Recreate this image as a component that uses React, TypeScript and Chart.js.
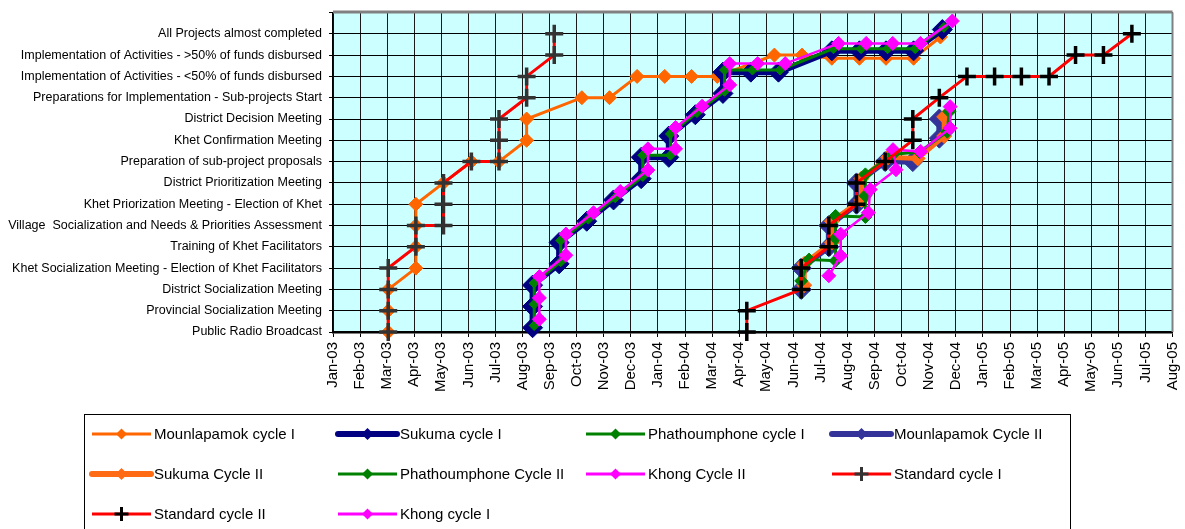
import React, { useEffect, useRef } from 'react';
import { Chart, registerables } from 'chart.js';

Chart.register(...registerables);

// ---------- tick labels ----------
const monthLabels = [
  'Jan-03', 'Feb-03', 'Mar-03', 'Apr-03', 'May-03', 'Jun-03', 'Jul-03', 'Aug-03',
  'Sep-03', 'Oct-03', 'Nov-03', 'Dec-03', 'Jan-04', 'Feb-04', 'Mar-04', 'Apr-04',
  'May-04', 'Jun-04', 'Jul-04', 'Aug-04', 'Sep-04', 'Oct-04', 'Nov-04', 'Dec-04',
  'Jan-05', 'Feb-05', 'Mar-05', 'Apr-05', 'May-05', 'Jun-05', 'Jul-05', 'Aug-05',
];

const stepLabels = [
  'Public Radio Broadcast',
  'Provincial Socialization Meeting',
  'District Socialization Meeting',
  'Khet Socialization Meeting - Election of Khet Facilitators',
  'Training of Khet Facilitators',
  'Village  Socialization and Needs & Priorities Assessment',
  'Khet Priorization Meeting - Election of Khet',
  'District Prioritization Meeting',
  'Preparation of sub-project proposals',
  'Khet Confirmation Meeting',
  'District Decision Meeting',
  'Preparations for Implementation - Sub-projects Start',
  'Implementation of Activities - <50% of funds disbursed',
  'Implementation of Activities - >50% of funds disbursed',
  'All Projects almost completed',
];

// ---------- series (x = months since Jan-03, y = step index) ----------
const mounlapamokC1Month = [2.04, 2.04, 2.04, 3.06, 3.06, 3.06, 3.06, 4.08, 5.11, 6.13, 7.15, 7.15, 9.19, 10.21, 11.23, 12.25, 13.24, 14.19, 16.3, 17.32, 18.42, 19.44, 20.42, 21.44, 22.43];
const mounlapamokC1Step = [0, 1, 2, 3, 4, 5, 6, 7, 8, 8, 9, 10, 11, 11, 12, 12, 12, 12, 13, 13, 12.85, 12.85, 12.85, 12.85, 13.85];

const sukumaC1Month = [7.37, 7.37, 7.37, 8.35, 8.35, 9.37, 10.36, 11.38, 11.38, 12.4, 12.4, 13.38, 14.4, 14.4, 15.43, 16.45, 18.42, 19.44, 20.42, 21.44, 22.5];
const sukumaC1Step = [0.2, 1.2, 2.2, 3.2, 4.2, 5.2, 6.2, 7.2, 8.2, 8.2, 9.2, 10.2, 11.2, 12.2, 12.2, 12.2, 13.2, 13.2, 13.2, 13.2, 14.2];

const phathoumphoneC1Month = [7.43, 7.43, 7.43, 8.41, 8.41, 9.43, 10.42, 11.44, 11.44, 12.46, 12.46, 13.44, 14.46, 14.46, 15.49, 16.51, 18.48, 19.5, 20.48, 21.5, 22.56];
const phathoumphoneC1Step = [0.3, 1.3, 2.3, 3.3, 4.3, 5.3, 6.3, 7.3, 8.3, 8.3, 9.3, 10.3, 11.3, 12.3, 12.3, 12.3, 13.3, 13.3, 13.3, 13.3, 14.3];

const mounlapamokC2Month = [17.29, 17.29, 18.31, 18.31, 19.33, 19.33, 20.39, 21.41, 22.39, 22.39];
const mounlapamokC2Step = [2, 3, 4, 5, 6, 7, 8, 8, 9.1, 10];

const sukumaC2Month = [17.4, 17.4, 18.42, 18.42, 19.51, 19.51, 20.5, 21.59, 22.57, 22.57];
const sukumaC2Step = [2.2, 3.2, 4.2, 5.2, 6.2, 7.2, 8.2, 8.15, 9.2, 10.1];

const phathoumphoneC2Month = [17.29, 17.58, 18.56, 18.56, 18.56, 19.66, 19.66, 19.66, 20.68, 21.66, 22.68, 22.76];
const phathoumphoneC2Step = [2.4, 3.4, 3.35, 4.4, 5.45, 5.4, 6.4, 7.4, 8.35, 8.45, 9.4, 10.35];

const khongC2Month = [18.31, 18.75, 18.75, 19.77, 19.84, 20.79, 20.68, 21.7, 22.79, 22.79];
const khongC2Step = [2.64, 3.58, 4.59, 5.6, 6.69, 7.62, 8.56, 8.48, 9.57, 10.58];

const standardC1Month = [2.04, 2.04, 2.04, 2.04, 3.06, 3.06, 4.08, 4.08, 4.08, 5.11, 6.13, 6.13, 6.13, 7.15, 7.15, 8.17, 8.17];
const standardC1Step = [0, 1, 2, 3, 4, 5, 5, 6, 7, 8, 8, 9, 10, 11, 12, 13, 14];

const standardC2Month = [15.28, 15.28, 17.29, 17.29, 18.31, 18.31, 19.33, 19.33, 20.39, 21.41, 21.41, 22.39, 23.41, 24.43, 25.42, 26.44, 27.42, 28.45, 29.5];
const standardC2Step = [0, 1, 2, 3, 4, 5, 6, 7, 8, 9, 10, 11, 12, 12, 12, 12, 13, 13, 14];

const khongC1Month = [7.62, 7.62, 7.62, 8.6, 8.6, 9.62, 10.61, 11.63, 11.63, 12.65, 12.65, 13.63, 14.65, 14.65, 15.68, 16.7, 18.67, 19.69, 20.67, 21.69, 22.87];
const khongC1Step = [0.6, 1.6, 2.6, 3.6, 4.6, 5.6, 6.6, 7.6, 8.6, 8.6, 9.6, 10.6, 11.6, 12.6, 12.6, 12.6, 13.55, 13.55, 13.55, 13.55, 14.6];

const FONT = "'Liberation Sans', Arial, Helvetica, sans-serif";

type SeriesDef = {
  name: string;
  xs: number[];
  ys: number[];
  color: string;
  width: number;
  style: 'rectRot' | 'cross';
  radius: number;
  pointColor: string;
  pointBorder: number;
  legendRadius: number;
};

const series: SeriesDef[] = [
  { name: 'Mounlapamok cycle I', xs: mounlapamokC1Month, ys: mounlapamokC1Step, color: '#FF6600', width: 3, style: 'rectRot', radius: 7, pointColor: '#FF6600', pointBorder: 1, legendRadius: 5.5 },
  { name: 'Sukuma cycle I', xs: sukumaC1Month, ys: sukumaC1Step, color: '#000080', width: 6, style: 'rectRot', radius: 10, pointColor: '#000080', pointBorder: 1, legendRadius: 6 },
  { name: 'Phathoumphone cycle I', xs: phathoumphoneC1Month, ys: phathoumphoneC1Step, color: '#008000', width: 3, style: 'rectRot', radius: 5, pointColor: '#008000', pointBorder: 1, legendRadius: 5.5 },
  { name: 'Mounlapamok Cycle II', xs: mounlapamokC2Month, ys: mounlapamokC2Step, color: '#333399', width: 6, style: 'rectRot', radius: 10, pointColor: '#333399', pointBorder: 1, legendRadius: 6 },
  { name: 'Sukuma Cycle II', xs: sukumaC2Month, ys: sukumaC2Step, color: '#FF6A14', width: 5, style: 'rectRot', radius: 7.5, pointColor: '#FF6A14', pointBorder: 1, legendRadius: 6 },
  { name: 'Phathoumphone Cycle II', xs: phathoumphoneC2Month, ys: phathoumphoneC2Step, color: '#008000', width: 3, style: 'rectRot', radius: 6.5, pointColor: '#008000', pointBorder: 1, legendRadius: 5.5 },
  { name: 'Khong Cycle II', xs: khongC2Month, ys: khongC2Step, color: '#FF00FF', width: 2.5, style: 'rectRot', radius: 7, pointColor: '#FF00FF', pointBorder: 1, legendRadius: 5.5 },
  { name: 'Standard cycle I', xs: standardC1Month, ys: standardC1Step, color: '#FF0000', width: 3, style: 'cross', radius: 9, pointColor: '#333333', pointBorder: 3.5, legendRadius: 7 },
  { name: 'Standard cycle II', xs: standardC2Month, ys: standardC2Step, color: '#FF0000', width: 3, style: 'cross', radius: 9, pointColor: '#000000', pointBorder: 3.5, legendRadius: 7 },
  { name: 'Khong cycle I', xs: khongC1Month, ys: khongC1Step, color: '#FF00FF', width: 2.5, style: 'rectRot', radius: 7, pointColor: '#FF00FF', pointBorder: 1, legendRadius: 5.5 },
];

const legendCols = [92, 338, 586, 832];
const legendRows = [434, 474, 514];

function drawMarker(ctx: CanvasRenderingContext2D, s: SeriesDef, x: number, y: number) {
  const r = s.legendRadius;
  if (s.style === 'cross') {
    ctx.strokeStyle = s.pointColor;
    ctx.lineWidth = 3;
    ctx.lineCap = 'butt';
    ctx.beginPath();
    ctx.moveTo(x - r, y);
    ctx.lineTo(x + r, y);
    ctx.moveTo(x, y - r);
    ctx.lineTo(x, y + r);
    ctx.stroke();
  } else {
    ctx.fillStyle = s.pointColor;
    ctx.beginPath();
    ctx.moveTo(x - r, y);
    ctx.lineTo(x, y - r);
    ctx.lineTo(x + r, y);
    ctx.lineTo(x, y + r);
    ctx.closePath();
    ctx.fill();
  }
}

const backgroundPlugin = {
  id: 'bgPlugin',
  beforeDraw(chart: any) {
    const { ctx, chartArea: a } = chart;
    ctx.save();
    ctx.fillStyle = '#ffffff';
    ctx.fillRect(0, 0, chart.width, chart.height);
    ctx.fillStyle = '#CCFFFF';
    ctx.fillRect(a.left, a.top, a.right - a.left, a.bottom - a.top);
    ctx.restore();
  },
  afterDraw(chart: any) {
    const { ctx, chartArea: a } = chart;
    ctx.save();
    // top and right frame
    ctx.strokeStyle = '#808080';
    ctx.lineWidth = 3;
    ctx.beginPath();
    ctx.moveTo(a.left, a.top - 0.5);
    ctx.lineTo(a.right, a.top - 0.5);
    ctx.stroke();
    ctx.lineWidth = 2;
    ctx.beginPath();
    ctx.moveTo(a.right, a.top);
    ctx.lineTo(a.right, a.bottom);
    ctx.stroke();

    // legend box
    ctx.strokeStyle = '#000000';
    ctx.lineWidth = 1;
    ctx.strokeRect(84.5, 414.5, 986, 200);
    ctx.font = `15px ${FONT}`;
    ctx.textBaseline = 'middle';
    ctx.textAlign = 'left';
    series.forEach((s, i) => {
      const x0 = legendCols[i % 4];
      const y = legendRows[Math.floor(i / 4)];
      const x1 = x0 + 59;
      ctx.strokeStyle = s.color;
      ctx.lineWidth = s.width >= 5 ? 6 : 3;
      ctx.lineCap = s.width >= 5 ? 'round' : 'butt';
      ctx.beginPath();
      ctx.moveTo(x0, y);
      ctx.lineTo(x1, y);
      ctx.stroke();
      drawMarker(ctx, s, (x0 + x1) / 2, y);
      ctx.fillStyle = '#000000';
      ctx.fillText(s.name, x1 + 3, y + 1);
    });
    ctx.restore();
  },
};

export default function App() {
  const canvasRef = useRef<HTMLCanvasElement | null>(null);

  useEffect(() => {
    const canvas = canvasRef.current;
    if (!canvas) return;
    const datasets = series.map((s, i) => ({
      label: s.name,
      data: s.xs.map((x, k) => ({ x, y: s.ys[k] })),
      borderColor: s.color,
      backgroundColor: s.pointColor,
      borderWidth: s.width,
      pointStyle: s.style,
      pointRadius: s.radius,
      pointHoverRadius: s.radius,
      pointBackgroundColor: s.pointColor,
      pointBorderColor: s.pointColor,
      pointBorderWidth: s.pointBorder,
      tension: 0,
      fill: false,
      order: -i,
      clip: 12,
    }));

    const chart = new Chart(canvas, {
      type: 'line',
      data: { datasets },
      plugins: [backgroundPlugin],
      options: {
        responsive: false,
        animation: false,
        devicePixelRatio: 1,
        events: [],
        layout: { padding: { top: 10, right: 2, left: 0, bottom: 0 } },
        plugins: {
          legend: { display: false },
          tooltip: { enabled: false },
        },
        scales: {
          x: {
            type: 'linear',
            min: 0,
            max: 31,
            afterBuildTicks: (scale: any) => {
              scale.ticks = monthLabels.map((_, i) => ({ value: i }));
            },
            afterFit: (scale: any) => {
              scale.height = 197;
              scale.paddingLeft = 0;
              scale.paddingRight = 0;
            },
            ticks: {
              autoSkip: false,
              minRotation: 90,
              maxRotation: 90,
              padding: 5,
              color: '#000000',
              font: { family: FONT, size: 15 },
              callback: (v: any) => monthLabels[Math.round(Number(v))] ?? '',
            },
            grid: {
              color: '#1a1a1a',
              lineWidth: 1,
              tickLength: 5,
              tickColor: '#000000',
            },
            border: { color: '#000000', width: 2.5 },
          },
          y: {
            type: 'linear',
            min: 0,
            max: 15,
            afterBuildTicks: (scale: any) => {
              const t = [];
              for (let i = 0; i <= 15; i++) t.push({ value: i });
              scale.ticks = t;
            },
            afterFit: (scale: any) => {
              scale.width = 333;
              scale.paddingTop = 0;
              scale.paddingBottom = 0;
            },
            ticks: {
              autoSkip: false,
              padding: 7,
              color: '#000000',
              font: { family: FONT, size: 12.5 },
              callback: (v: any) => stepLabels[Math.round(Number(v))] ?? '',
            },
            grid: {
              color: '#000000',
              lineWidth: 1,
              tickLength: 4,
              tickColor: '#000000',
            },
            border: { color: '#000000', width: 1.5 },
          },
        },
      } as any,
    });
    return () => chart.destroy();
  }, []);

  return (
    <div style={{ position: 'absolute', left: 0, top: 0, width: 1185, height: 529, overflow: 'hidden', background: '#fff' }}>
      <canvas ref={canvasRef} width={1185} height={529} style={{ display: 'block', width: 1185, height: 529 }} />
    </div>
  );
}
